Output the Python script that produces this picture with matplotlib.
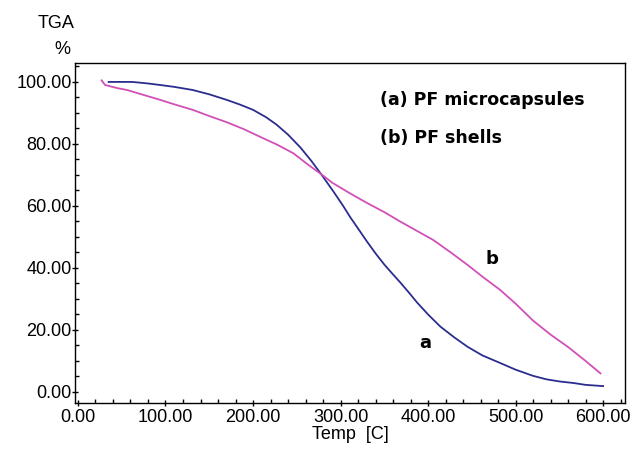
import matplotlib
matplotlib.use('Agg')
import matplotlib.pyplot as plt
from matplotlib.ticker import MultipleLocator, FormatStrFormatter

# curve (a) PF microcapsules
temp_a = [35, 50, 62, 80, 94, 110, 131, 150, 170, 185, 200, 215, 227, 240,
          254, 267, 280, 292, 303, 311, 322, 330, 340, 350, 360, 368, 378,
          387, 400, 414, 430, 445, 462, 482, 500, 520, 535, 550, 566, 580, 600]
tga_a = [100.0, 100.0, 100.0, 99.5, 99.0, 98.4, 97.4, 96.0, 94.2, 92.7, 91.0,
         88.6, 86.2, 83.0, 78.9, 74.4, 69.4, 64.6, 60.0, 56.4, 51.9, 48.6,
         44.7, 41.1, 37.9, 35.4, 32.1, 29.0, 25.0, 21.1, 17.6, 14.6, 11.8,
         9.4, 7.2, 5.2, 4.1, 3.4, 2.9, 2.3, 1.9]

# curve (b) PF shells
temp_b = [27, 31, 45, 56, 75, 94, 112, 131, 150, 170, 190, 208, 228, 246,
          262, 280, 291, 310, 330, 350, 368, 387, 406, 425, 445, 463, 482,
          500, 520, 540, 560, 580, 597]
tga_b = [100.5, 99.0, 98.0, 97.4, 95.8, 94.2, 92.6, 91.0, 89.0, 87.0, 84.7,
         82.3, 79.7, 77.0, 73.5, 69.8, 67.4, 64.2, 61.0, 58.0, 55.0, 52.0,
         49.0, 45.2, 41.0, 37.0, 33.0, 28.5, 23.0, 18.5, 14.5, 10.0, 6.0]

tick_font = 'Liberation Sans'

fig = plt.figure(figsize=(6.35, 4.55), dpi=100)
ax = fig.add_axes([75 / 635, 52 / 455, 550 / 635, 340 / 455])

ax.plot(temp_a, tga_a, color='#2B2D8E', lw=1.3)
ax.plot(temp_b, tga_b, color='#D050B8', lw=1.3)

ax.set_xlim(-3.4, 625)
ax.set_ylim(-3.55, 106.1)

ax.xaxis.set_major_locator(MultipleLocator(100))
ax.xaxis.set_minor_locator(MultipleLocator(20))
ax.yaxis.set_major_locator(MultipleLocator(20))
ax.yaxis.set_minor_locator(MultipleLocator(5))
ax.xaxis.set_major_formatter(FormatStrFormatter('%.2f'))
ax.yaxis.set_major_formatter(FormatStrFormatter('%.2f'))

ax.tick_params(which='major', direction='inout', length=5, width=1, pad=2,
               labelsize=13)
ax.tick_params(which='minor', direction='in', length=3, width=1)
ax.tick_params(axis='y', which='major', pad=0)
for lab in ax.get_xticklabels() + ax.get_yticklabels():
    lab.set_fontfamily(tick_font)

for sp in ax.spines.values():
    sp.set_linewidth(1.0)
    sp.set_color('black')

ax.set_xlabel('Temp  [C]', fontsize=13, family=tick_font, labelpad=0)

fig.text(56 / 635, 1 - 23 / 455, 'TGA', fontsize=13, family=tick_font,
         ha='center', va='center')
fig.text(62 / 635, 1 - 49 / 455, '%', fontsize=13, family=tick_font,
         ha='center', va='center')

ax.text(345, 94.2, '(a) PF microcapsules', fontsize=12.5, fontweight='bold',
        ha='left', va='center')
ax.text(345, 82, '(b) PF shells', fontsize=12.5, fontweight='bold',
        ha='left', va='center')
ax.text(473, 43, 'b', fontsize=13, fontweight='bold', ha='center', va='center')
ax.text(397, 15.8, 'a', fontsize=13, fontweight='bold', ha='center', va='center')

fig.savefig('out.png', dpi=100)
